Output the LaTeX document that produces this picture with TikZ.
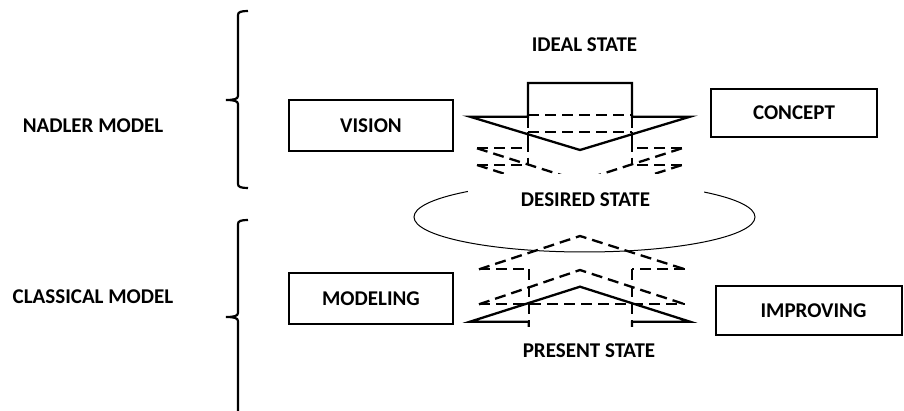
\documentclass[tikz,border=0pt]{standalone}
\usepackage{fontspec}
\setmainfont{Carlito}
\begin{document}
\begin{tikzpicture}[x=1pt,y=-1pt,
  lbl/.style={font=\fontsize{21}{25}\selectfont\bfseries, inner sep=0pt},
  boxnode/.style={lbl, draw, line width=2pt, inner sep=0pt},
  solidline/.style={line width=2.3pt, line join=miter},
  dashline/.style={line width=2.3pt, dash pattern=on 11pt off 6pt},
  bracel/.style={line width=2.2pt},
  mask/.style={lbl, fill=white}
]
\useasboundingbox (0,0) rectangle (904,411);

% braces
\draw[bracel] (248,11) .. controls (241,11) and (238,12) .. (238,15) -- (238,96)
  .. controls (238,99) and (234,100) .. (226,100)
  .. controls (234,100) and (238,101) .. (238,104) -- (238,184)
  .. controls (238,187) and (241,188) .. (248,188);
\draw[bracel] (248,220) .. controls (241,220) and (238,221) .. (238,224) -- (238,313)
  .. controls (238,316) and (234,317) .. (226,317)
  .. controls (234,317) and (238,318) .. (238,321) -- (238,412);

% left labels
\node[lbl] (nadler) at (93,125.5) {NADLER MODEL};
\node[lbl] (classical) at (93,297) {CLASSICAL MODEL};

% boxes
\node[boxnode, minimum width=164pt, minimum height=51pt] (vision) at (371,125.5) {VISION};
\node[boxnode, minimum width=164pt, minimum height=51pt] (modeling) at (371,298.5) {MODELING};
\node[boxnode, minimum width=166pt, minimum height=48pt] (concept) at (794,113) {CONCEPT};
\node[boxnode, minimum width=186pt, minimum height=49pt] (improving) at (808.5,310.5) {\hspace*{10pt}IMPROVING};

\node[lbl] (ideal) at (584.5,45) {IDEAL STATE};

% ellipse
\draw[line width=1pt] (584.5,217) ellipse [x radius=170.5pt, y radius=35pt];

% down arrow (solid)
\draw[solidline] (470,116.7) -- (528,116.7) -- (528,83) -- (632,83) -- (632,116.7)
  -- (690,116.7) -- (580,150) -- cycle;
% down arrow dashed copies
\draw[dashline] (528,115) -- (632,115);
\draw[dashline] (528,116.7) -- (528,148.3);
\draw[dashline] (632,116.7) -- (632,148.3);
\draw[dashline] (477,148.3) -- (528,148.3);
\draw[dashline] (682,148.3) -- (632,148.3);
\draw[dashline] (477,148.3) -- (580,181) -- (682,148.3);
\draw[dashline] (528,131.7) -- (632,131.7);
\draw[dashline, dash phase=8pt] (528,131.7) -- (528,165);
\draw[dashline, dash phase=8pt] (632,131.7) -- (632,165);
\draw[dashline] (477,165) -- (528,165);
\draw[dashline] (682,165) -- (632,165);
\draw[dashline] (477,165) -- (580,198) -- (682,165);

\node[mask, minimum width=236pt, minimum height=51pt] (desired) at (585.5,199.5) {DESIRED STATE};

% up arrow dashed copies
\draw[dashline] (479,269.3) -- (528.7,269.3);
\draw[dashline] (685,269.3) -- (632,269.3);
\draw[dashline] (479,269.3) -- (580,236) -- (685,269.3);
\draw[dashline] (528.7,269.3) -- (528.7,335);
\draw[dashline] (632,269.3) -- (632,335);
\draw[dashline] (479,304.3) -- (685,304.3);
\draw[dashline] (479,304.3) -- (580,270) -- (685,304.3);
% up arrow (solid)
\draw[solidline] (528.7,340) -- (528.7,321.7) -- (470,321.7) -- (580,286.7)
  -- (690,321.7) -- (632,321.7) -- (632,340);

\node[mask, minimum width=150pt, minimum height=48pt] (present) at (589,351) {PRESENT STATE};
\end{tikzpicture}
\end{document}
